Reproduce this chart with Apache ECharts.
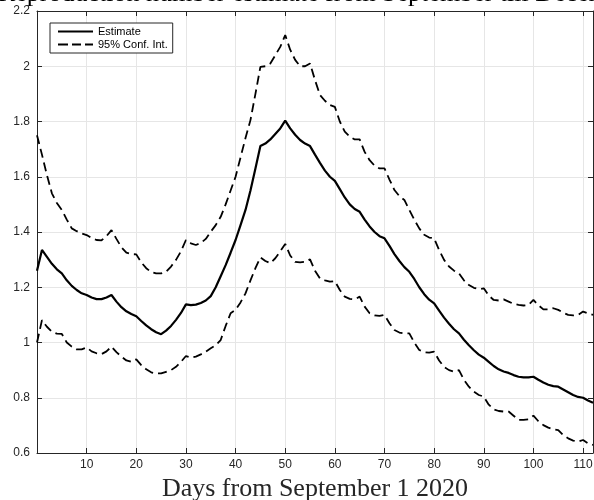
<!DOCTYPE html>
<html>
<head>
<meta charset="utf-8">
<script src="https://cdn.jsdelivr.net/npm/echarts@6/dist/echarts.min.js"></script>
<style>html,body{margin:0;padding:0;background:#fff}#c{width:594px;height:500px}</style>
</head>
<body>
<div id="c"></div>
<script>
var titleText = "Reproduction number estimate from September till December";
var xAxisTitle = "Days from September 1 2020";
var seriesNames = ["Estimate", "95% Conf. Int."];
var xTicks = [10, 20, 30, 40, 50, 60, 70, 80, 90, 100, 110];
var yTicks = [0.6, 0.8, 1, 1.2, 1.4, 1.6, 1.8, 2, 2.2];

var estimate = [
1.26,1.335,1.31,1.285,1.265,1.25,1.225,1.205,1.19,1.178,
1.172,1.163,1.157,1.157,1.163,1.172,1.148,1.128,1.113,1.103,
1.095,1.078,1.062,1.048,1.037,1.03,1.043,1.06,1.082,1.107,
1.138,1.135,1.137,1.143,1.152,1.168,1.2,1.24,1.28,1.325,
1.371,1.425,1.48,1.55,1.63,1.711,1.72,1.735,1.755,1.775,
1.803,1.775,1.752,1.733,1.72,1.711,1.68,1.65,1.622,1.6,
1.585,1.555,1.525,1.5,1.483,1.473,1.445,1.42,1.4,1.385,
1.377,1.35,1.32,1.295,1.273,1.256,1.23,1.2,1.175,1.155,
1.142,1.115,1.09,1.068,1.048,1.033,1.01,0.99,0.972,0.956,
0.945,0.93,0.915,0.903,0.895,0.89,0.882,0.876,0.874,0.874,
0.876,0.865,0.855,0.847,0.842,0.84,0.83,0.82,0.81,0.803,
0.8,0.79,0.782];

var upperCI = [
1.75,1.68,1.606,1.54,1.505,1.48,1.445,1.413,1.403,1.395,
1.389,1.378,1.371,1.37,1.385,1.407,1.375,1.345,1.325,1.32,
1.319,1.29,1.269,1.255,1.25,1.25,1.256,1.275,1.299,1.33,
1.371,1.359,1.353,1.36,1.375,1.401,1.425,1.455,1.5,1.55,
1.6,1.67,1.74,1.805,1.9,1.998,2.0,2.01,2.04,2.07,
2.113,2.06,2.023,2.0,2.0,2.01,1.95,1.896,1.875,1.86,
1.853,1.8,1.763,1.745,1.735,1.735,1.69,1.66,1.64,1.63,
1.63,1.59,1.552,1.53,1.516,1.48,1.445,1.413,1.39,1.38,
1.377,1.335,1.299,1.275,1.26,1.25,1.225,1.208,1.198,1.193,
1.196,1.17,1.154,1.152,1.156,1.148,1.14,1.136,1.134,1.136,
1.154,1.135,1.12,1.12,1.124,1.118,1.108,1.1,1.098,1.1,
1.112,1.105,1.1];

var lowerCI = [
1.0,1.081,1.057,1.039,1.032,1.031,1.0,0.985,0.975,0.975,
0.982,0.968,0.961,0.958,0.968,0.985,0.965,0.949,0.935,0.93,
0.939,0.918,0.903,0.892,0.888,0.888,0.894,0.9,0.912,0.93,
0.951,0.945,0.949,0.957,0.967,0.979,0.99,1.009,1.06,1.106,
1.118,1.145,1.178,1.225,1.269,1.308,1.295,1.287,1.305,1.33,
1.357,1.315,1.292,1.29,1.292,1.301,1.26,1.232,1.225,1.22,
1.222,1.19,1.166,1.158,1.156,1.166,1.13,1.106,1.098,1.096,
1.1,1.07,1.045,1.036,1.033,1.033,1.0,0.973,0.965,0.963,
0.967,0.935,0.912,0.9,0.894,0.9,0.865,0.84,0.822,0.81,
0.804,0.775,0.758,0.752,0.75,0.75,0.735,0.72,0.72,0.722,
0.735,0.715,0.701,0.692,0.686,0.683,0.665,0.653,0.645,0.641,
0.647,0.635,0.629];

var days = estimate.map(function (_, i) { return i; });
function pairs(vals) { return vals.map(function (v, i) { return [days[i], v]; }); }

var chart = echarts.init(document.getElementById('c'), null, {renderer: 'canvas'});
var axisColor = '#262626';
var labelFont = {color: '#262626', fontSize: 12, fontFamily: 'Liberation Sans, Arial, sans-serif'};
var xMin = 0, xMax = 112, yMin = yTicks[0], yMax = yTicks[yTicks.length - 1];

chart.setOption({
  animation: false,
  backgroundColor: '#fff',
  title: {
    text: titleText,
    left: 315, top: -24, textAlign: 'center',
    textStyle: {fontFamily: 'Liberation Serif, Times New Roman, serif', fontSize: 26, fontWeight: 'normal', color: '#000'}
  },
  legend: {
    orient: 'vertical', left: 50, top: 23,
    data: [
      {name: seriesNames[0], icon: 'path://M0,0h35v2h-35z'},
      {name: seriesNames[1], icon: 'path://M0,0h10v2h-10zM14,0h9v2h-9zM27,0h8v2h-8z'}
    ],
    backgroundColor: '#fff', borderColor: '#262626', borderWidth: 1,
    padding: [2, 5, 2, 8], itemGap: 0, itemWidth: 35, itemHeight: 2,
    itemStyle: {color: '#000'},
    textStyle: {fontFamily: 'Liberation Sans, Arial, sans-serif', fontSize: 11, color: '#000', lineHeight: 13}
  },
  grid: {left: 37, top: 11, right: 1, bottom: 47, containLabel: false, outerBoundsMode: 'none'},
  xAxis: [{
    type: 'value', min: xMin, max: xMax, interval: 10, position: 'bottom',
    axisLine: {show: true, onZero: false, lineStyle: {color: axisColor, width: 1}},
    axisTick: {show: true, inside: true, length: 5, lineStyle: {color: axisColor}},
    axisLabel: Object.assign({margin: 6, formatter: function (v) { return xTicks.indexOf(v) >= 0 ? String(v) : ''; }}, labelFont),
    splitLine: {show: true, lineStyle: {color: '#e6e6e6', width: 1}},
    name: xAxisTitle, nameLocation: 'middle', nameGap: 15,
    nameTextStyle: {fontFamily: 'Liberation Serif, Times New Roman, serif', fontSize: 26, color: '#262626'}
  }, {
    type: 'value', min: xMin, max: xMax, interval: 10, position: 'top',
    axisLine: {show: true, onZero: false, lineStyle: {color: axisColor, width: 1}},
    axisTick: {show: true, inside: true, length: 5, lineStyle: {color: axisColor}},
    axisLabel: {show: false}, splitLine: {show: false}
  }],
  yAxis: [{
    type: 'value', min: yMin, max: yMax, interval: 0.2, position: 'left',
    axisLine: {show: true, onZero: false, lineStyle: {color: axisColor, width: 1}},
    axisTick: {show: true, inside: true, length: 5, lineStyle: {color: axisColor}},
    axisLabel: Object.assign({margin: 7, formatter: function (v) { return String(Math.round(v * 10) / 10); }}, labelFont),
    splitLine: {show: true, lineStyle: {color: '#e6e6e6', width: 1}}
  }, {
    type: 'value', min: yMin, max: yMax, interval: 0.2, position: 'right',
    axisLine: {show: true, onZero: false, lineStyle: {color: axisColor, width: 1}},
    axisTick: {show: true, inside: true, length: 5, lineStyle: {color: axisColor}},
    axisLabel: {show: false}, splitLine: {show: false}
  }],
  series: [{
    name: seriesNames[0], type: 'line', data: pairs(estimate),
    symbol: 'none', color: '#000', z: 5,
    lineStyle: {color: '#000', width: 2.2}
  }, {
    name: seriesNames[1], type: 'line', data: pairs(upperCI),
    symbol: 'none', color: '#000',
    lineStyle: {color: '#000', width: 1.8, type: [9, 5]}
  }, {
    name: seriesNames[1], type: 'line', data: pairs(lowerCI),
    symbol: 'none', color: '#000',
    lineStyle: {color: '#000', width: 1.8, type: [9, 5]}
  }]
});
</script>
</body>
</html>
